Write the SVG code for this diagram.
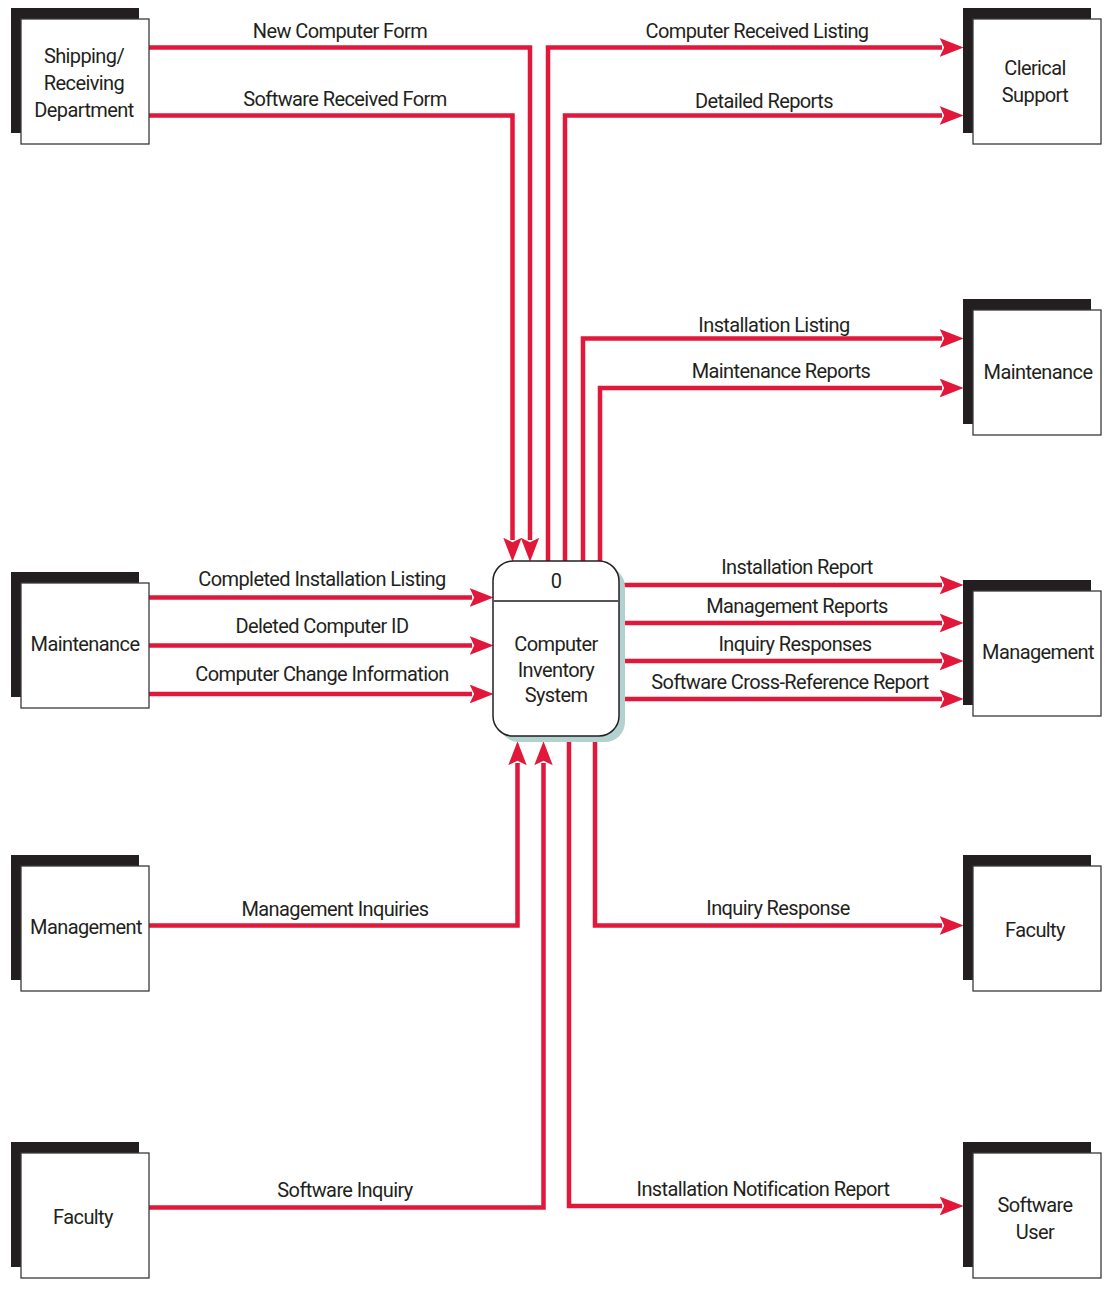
<svg xmlns="http://www.w3.org/2000/svg" width="1105" height="1289" viewBox="0 0 1105 1289">
<style>
text{font-family:Roboto,"Liberation Sans",Arial,sans-serif;font-size:20px;fill:#231f20;text-anchor:middle;letter-spacing:-0.6px}
.sh{fill:#231f20}
.bx{fill:#fff;stroke:#3a3a3a;stroke-width:1.3}
.fl{fill:none;stroke:#e2183a;stroke-width:4.5;stroke-linejoin:miter}
</style>
<defs>
<marker id="ah" markerUnits="userSpaceOnUse" markerWidth="26" markerHeight="20" viewBox="-22 -9 24 18" refX="-20" refY="0" orient="auto">
<path d="M0,0 L-22,-8.5 L-18,0 L-22,8.5 Z" fill="#e2183a"/>
</marker>
</defs>
<rect width="1105" height="1289" fill="#fff"/>

<g id="connectors">
<path class="fl" d="M149,47.5 H530 V540" marker-end="url(#ah)"/>
<path class="fl" d="M149,115.5 H512.5 V540" marker-end="url(#ah)"/>
<path class="fl" d="M548,561 V47.5 H942" marker-end="url(#ah)"/>
<path class="fl" d="M565,561 V115.5 H942" marker-end="url(#ah)"/>
<path class="fl" d="M583,561 V338.5 H942" marker-end="url(#ah)"/>
<path class="fl" d="M600,561 V388 H942" marker-end="url(#ah)"/>
<path class="fl" d="M149,597.5 H472" marker-end="url(#ah)"/>
<path class="fl" d="M149,645.5 H472" marker-end="url(#ah)"/>
<path class="fl" d="M149,694 H472" marker-end="url(#ah)"/>
<path class="fl" d="M624,585 H942" marker-end="url(#ah)"/>
<path class="fl" d="M624,623 H942" marker-end="url(#ah)"/>
<path class="fl" d="M624,661 H942" marker-end="url(#ah)"/>
<path class="fl" d="M624,699 H942" marker-end="url(#ah)"/>
<path class="fl" d="M149,925.5 H517.5 V763" marker-end="url(#ah)"/>
<path class="fl" d="M149,1207.5 H543.5 V763" marker-end="url(#ah)"/>
<path class="fl" d="M595,742 V925.5 H942" marker-end="url(#ah)"/>
<path class="fl" d="M569,742 V1206 H942" marker-end="url(#ah)"/>
<text x="340" y="38">New Computer Form</text>
<text x="345" y="106">Software Received Form</text>
<text x="757" y="38">Computer Received Listing</text>
<text x="764" y="108">Detailed Reports</text>
<text x="774" y="332">Installation Listing</text>
<text x="781" y="378">Maintenance Reports</text>
<text x="322" y="586">Completed Installation Listing</text>
<text x="322" y="633">Deleted Computer ID</text>
<text x="322" y="681">Computer Change Information</text>
<text x="797" y="574">Installation Report</text>
<text x="797" y="613">Management Reports</text>
<text x="795" y="651">Inquiry Responses</text>
<text x="790" y="689">Software Cross-Reference Report</text>
<text x="335" y="916">Management Inquiries</text>
<text x="778" y="915">Inquiry Response</text>
<text x="345" y="1197">Software Inquiry</text>
<text x="763" y="1196">Installation Notification Report</text>
</g>

<g id="process0">
<rect x="499" y="567" width="126" height="175" rx="20" fill="#b3d2cf"/>
<rect x="493" y="561" width="126" height="175" rx="20" fill="#fff" stroke="#231f20" stroke-width="1.5"/>
<line x1="493" y1="601" x2="619" y2="601" stroke="#555" stroke-width="1.8"/>
<text x="556" y="588">0</text>
<text x="556" y="651">Computer</text>
<text x="556" y="677">Inventory</text>
<text x="556" y="702">System</text>
</g>

<g id="shipping">
<rect class="sh" x="11" y="8" width="128" height="125"/>
<rect class="bx" x="21" y="19" width="128" height="125"/>
<text x="84" y="63">Shipping/</text>
<text x="84" y="90">Receiving</text>
<text x="84" y="117">Department</text>
</g>
<g id="clerical">
<rect class="sh" x="963" y="8" width="128" height="125"/>
<rect class="bx" x="973" y="19" width="128" height="125"/>
<text x="1035" y="75">Clerical</text>
<text x="1035" y="102">Support</text>
</g>
<g id="maintenance-right">
<rect class="sh" x="963" y="299" width="128" height="125"/>
<rect class="bx" x="973" y="310" width="128" height="125"/>
<text x="1038" y="379">Maintenance</text>
</g>
<g id="maintenance-left">
<rect class="sh" x="11" y="572" width="128" height="125"/>
<rect class="bx" x="21" y="583" width="128" height="125"/>
<text x="85" y="651">Maintenance</text>
</g>
<g id="management-right">
<rect class="sh" x="963" y="580" width="128" height="125"/>
<rect class="bx" x="973" y="591" width="128" height="125"/>
<text x="1038" y="659">Management</text>
</g>
<g id="management-left">
<rect class="sh" x="11" y="855" width="128" height="125"/>
<rect class="bx" x="21" y="866" width="128" height="125"/>
<text x="86" y="934">Management</text>
</g>
<g id="faculty-right">
<rect class="sh" x="963" y="855" width="128" height="125"/>
<rect class="bx" x="973" y="866" width="128" height="125"/>
<text x="1035" y="937">Faculty</text>
</g>
<g id="faculty-left">
<rect class="sh" x="11" y="1142" width="128" height="125"/>
<rect class="bx" x="21" y="1153" width="128" height="125"/>
<text x="83" y="1224">Faculty</text>
</g>
<g id="software-user">
<rect class="sh" x="963" y="1142" width="128" height="125"/>
<rect class="bx" x="973" y="1153" width="128" height="125"/>
<text x="1035" y="1212">Software</text>
<text x="1035" y="1239">User</text>
</g>
</svg>
